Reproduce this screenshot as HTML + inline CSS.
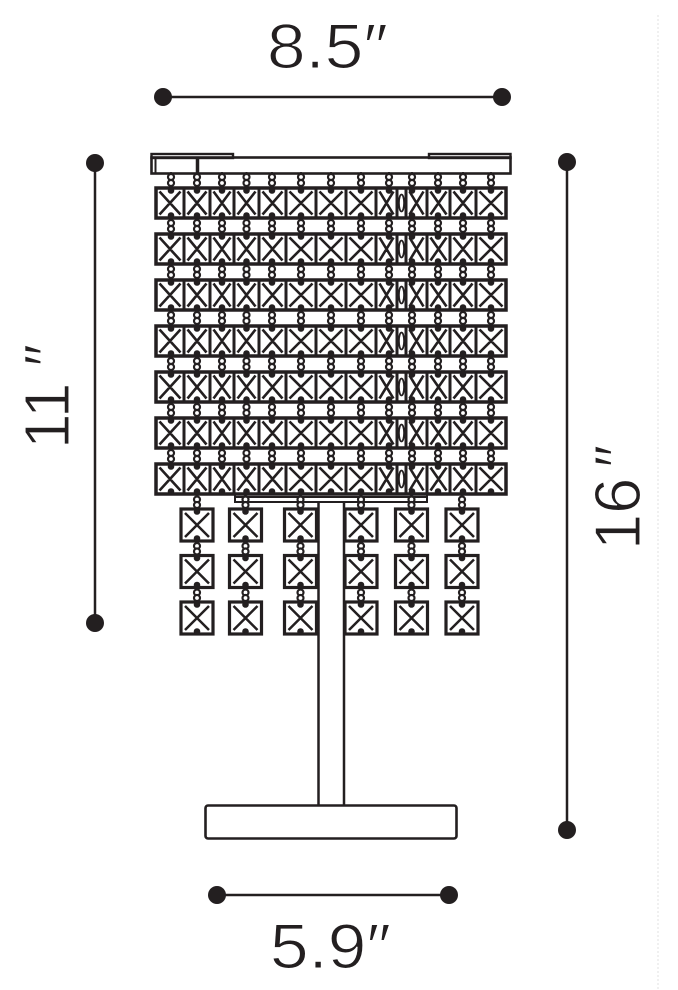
<!DOCTYPE html>
<html>
<head>
<meta charset="utf-8">
<style>
html,body{margin:0;padding:0;background:#fff;}
body{width:678px;height:990px;overflow:hidden;}
svg{display:block;}
.t{font-family:"Liberation Sans","DejaVu Sans",sans-serif;fill:#231f20;stroke:#fff;stroke-width:1.1px;}
</style>
</head>
<body>
<svg width="678" height="990" viewBox="0 0 678 990" xmlns="http://www.w3.org/2000/svg">
  <rect width="678" height="990" fill="#fff"/>
  <line x1="658" y1="15" x2="658" y2="990" stroke="#ececec" stroke-width="1.5" stroke-dasharray="2 2"/>

  <g stroke="#231f20" stroke-width="2.5" fill="#231f20">
    <line x1="163" y1="97" x2="502" y2="97"/>
    <circle cx="163" cy="97" r="9" stroke="none"/>
    <circle cx="502" cy="97" r="9" stroke="none"/>
    <line x1="95" y1="163" x2="95" y2="623"/>
    <circle cx="95" cy="163" r="9" stroke="none"/>
    <circle cx="95" cy="623" r="9" stroke="none"/>
    <line x1="567" y1="162" x2="567" y2="830"/>
    <circle cx="567" cy="162" r="9" stroke="none"/>
    <circle cx="567" cy="830" r="9" stroke="none"/>
    <line x1="217" y1="895" x2="449" y2="895"/>
    <circle cx="217" cy="895" r="9" stroke="none"/>
    <circle cx="449" cy="895" r="9" stroke="none"/>
  </g>

  <g stroke="#231f20" fill="none">
    <rect x="151.5" y="157.5" width="359" height="16" stroke-width="2.6" fill="#fff"/>
    <rect x="151.5" y="154" width="81.5" height="4" stroke-width="2.4"/>
    <rect x="429" y="154" width="81.5" height="4" stroke-width="2.4"/>
    <line x1="155.5" y1="157" x2="155.5" y2="174" stroke-width="2"/>
    <line x1="197.5" y1="157" x2="197.5" y2="174" stroke-width="3.5"/>
  </g>

  <defs>
    <g id="row">
      <g stroke="#231f20" stroke-width="1.8">
        <path d="M171 172V188M197 172V188M222 172V188M246.5 172V188M272 172V188M301 172V188M331 172V188M361 172V188M389 172V188M412 172V188M438 172V188M463 172V188M491 172V188"/>
      </g>
      <g stroke="#231f20" stroke-width="2.2" fill="#fff">
        <circle cx="171" cy="177" r="3"/><circle cx="171" cy="183" r="3"/>
        <circle cx="197" cy="177" r="3"/><circle cx="197" cy="183" r="3"/>
        <circle cx="222" cy="177" r="3"/><circle cx="222" cy="183" r="3"/>
        <circle cx="246.5" cy="177" r="3"/><circle cx="246.5" cy="183" r="3"/>
        <circle cx="272" cy="177" r="3"/><circle cx="272" cy="183" r="3"/>
        <circle cx="301" cy="177" r="3"/><circle cx="301" cy="183" r="3"/>
        <circle cx="331" cy="177" r="3"/><circle cx="331" cy="183" r="3"/>
        <circle cx="361" cy="177" r="3"/><circle cx="361" cy="183" r="3"/>
        <circle cx="389" cy="177" r="3"/><circle cx="389" cy="183" r="3"/>
        <circle cx="412" cy="177" r="3"/><circle cx="412" cy="183" r="3"/>
        <circle cx="438" cy="177" r="3"/><circle cx="438" cy="183" r="3"/>
        <circle cx="463" cy="177" r="3"/><circle cx="463" cy="183" r="3"/>
        <circle cx="491" cy="177" r="3"/><circle cx="491" cy="183" r="3"/>
      </g>
      <rect x="156" y="188" width="350" height="30" stroke="#231f20" stroke-width="3.5" fill="#fff"/>
      <path stroke="#231f20" stroke-width="3" d="M184 188V218M210 188V218M234 188V218M259 188V218M286 188V218M316 188V218M346 188V218M376 188V218M397 188V218M406 188V218M427 188V218M450 188V218M476 188V218"/>
      <path stroke="#231f20" stroke-width="2.6" fill="none" d="
        M159.5 191.5L180.5 214.5M180.5 191.5L159.5 214.5
        M187.5 191.5L206.5 214.5M206.5 191.5L187.5 214.5
        M213.5 191.5L230.5 214.5M230.5 191.5L213.5 214.5
        M237.5 191.5L255.5 214.5M255.5 191.5L237.5 214.5
        M262.5 191.5L282.5 214.5M282.5 191.5L262.5 214.5
        M289.5 191.5L312.5 214.5M312.5 191.5L289.5 214.5
        M319.5 191.5L342.5 214.5M342.5 191.5L319.5 214.5
        M349.5 191.5L372.5 214.5M372.5 191.5L349.5 214.5
        M379.5 191.5L393.5 214.5M393.5 191.5L379.5 214.5
        M409.5 191.5L423.5 214.5M423.5 191.5L409.5 214.5
        M430.5 191.5L446.5 214.5M446.5 191.5L430.5 214.5
        M453.5 191.5L472.5 214.5M472.5 191.5L453.5 214.5
        M479.5 191.5L502.5 214.5M502.5 191.5L479.5 214.5"/>
      <ellipse cx="401.5" cy="203" rx="2.6" ry="8.5" stroke="#231f20" stroke-width="1.8" fill="none"/>
      <g fill="#231f20">
        <circle cx="171" cy="190.5" r="3.3"/><circle cx="171" cy="215.5" r="3.3"/>
        <circle cx="197" cy="190.5" r="3.3"/><circle cx="197" cy="215.5" r="3.3"/>
        <circle cx="222" cy="190.5" r="3.3"/><circle cx="222" cy="215.5" r="3.3"/>
        <circle cx="246.5" cy="190.5" r="3.3"/><circle cx="246.5" cy="215.5" r="3.3"/>
        <circle cx="272" cy="190.5" r="3.3"/><circle cx="272" cy="215.5" r="3.3"/>
        <circle cx="301" cy="190.5" r="3.3"/><circle cx="301" cy="215.5" r="3.3"/>
        <circle cx="331" cy="190.5" r="3.3"/><circle cx="331" cy="215.5" r="3.3"/>
        <circle cx="361" cy="190.5" r="3.3"/><circle cx="361" cy="215.5" r="3.3"/>
        <circle cx="389" cy="190.5" r="3.3"/><circle cx="389" cy="215.5" r="3.3"/>
        <circle cx="412" cy="190.5" r="3.3"/><circle cx="412" cy="215.5" r="3.3"/>
        <circle cx="438" cy="190.5" r="3.3"/><circle cx="438" cy="215.5" r="3.3"/>
        <circle cx="463" cy="190.5" r="3.3"/><circle cx="463" cy="215.5" r="3.3"/>
        <circle cx="491" cy="190.5" r="3.3"/><circle cx="491" cy="215.5" r="3.3"/>
      </g>
    </g>

    <g id="dq">
      <line x1="16" y1="-14" x2="16" y2="0" stroke="#231f20" stroke-width="1.8"/>
      <circle cx="16" cy="-9.5" r="3" stroke="#231f20" stroke-width="2.2" fill="#fff"/>
      <circle cx="16" cy="-4" r="3" stroke="#231f20" stroke-width="2.2" fill="#fff"/>
      <rect x="0" y="0" width="32" height="32" stroke="#231f20" stroke-width="3.2" fill="#fff"/>
      <path d="M4 4L28 28M28 4L4 28" stroke="#231f20" stroke-width="2.5"/>
      <circle cx="16" cy="2.5" r="3.3" fill="#231f20"/>
      <circle cx="16" cy="29.5" r="3.3" fill="#231f20"/>
    </g>
  </defs>

  <use href="#row"/>
  <use href="#row" transform="translate(0,46)"/>
  <use href="#row" transform="translate(0,92)"/>
  <use href="#row" transform="translate(0,138)"/>
  <use href="#row" transform="translate(0,184)"/>
  <use href="#row" transform="translate(0,230)"/>
  <use href="#row" transform="translate(0,276)"/>

  <g stroke="#231f20" stroke-width="2" fill="none">
    <path d="M235 497H427M235 502H427M235 495V503M427 495V503"/>
  </g>

  <g stroke="#231f20" stroke-width="2.5">
    <line x1="318.5" y1="502" x2="318.5" y2="806"/>
    <line x1="344" y1="502" x2="344" y2="806"/>
  </g>

  <use href="#dq" transform="translate(181,509)"/>
  <use href="#dq" transform="translate(229.5,509)"/>
  <use href="#dq" transform="translate(284.5,509)"/>
  <use href="#dq" transform="translate(345,509)"/>
  <use href="#dq" transform="translate(395.5,509)"/>
  <use href="#dq" transform="translate(446,509)"/>
  <use href="#dq" transform="translate(181,555.5)"/>
  <use href="#dq" transform="translate(229.5,555.5)"/>
  <use href="#dq" transform="translate(284.5,555.5)"/>
  <use href="#dq" transform="translate(345,555.5)"/>
  <use href="#dq" transform="translate(395.5,555.5)"/>
  <use href="#dq" transform="translate(446,555.5)"/>
  <use href="#dq" transform="translate(181,602)"/>
  <use href="#dq" transform="translate(229.5,602)"/>
  <use href="#dq" transform="translate(284.5,602)"/>
  <use href="#dq" transform="translate(345,602)"/>
  <use href="#dq" transform="translate(395.5,602)"/>
  <use href="#dq" transform="translate(446,602)"/>

  <rect x="205.5" y="805.5" width="251" height="33" rx="2.5" stroke="#231f20" stroke-width="2.6" fill="#fff"/>

  <text class="t" font-size="63" transform="translate(267,68) scale(1.1,1)">8.5″</text>
  <text class="t" font-size="63" transform="translate(270,968) scale(1.1,1)">5.9″</text>
  <text class="t" font-size="64" transform="translate(69,449) rotate(-90)">11<tspan dx="16">″</tspan></text>
  <text class="t" font-size="65" transform="translate(640,550) rotate(-90)">16<tspan dx="10">″</tspan></text>
</svg>
</body>
</html>
